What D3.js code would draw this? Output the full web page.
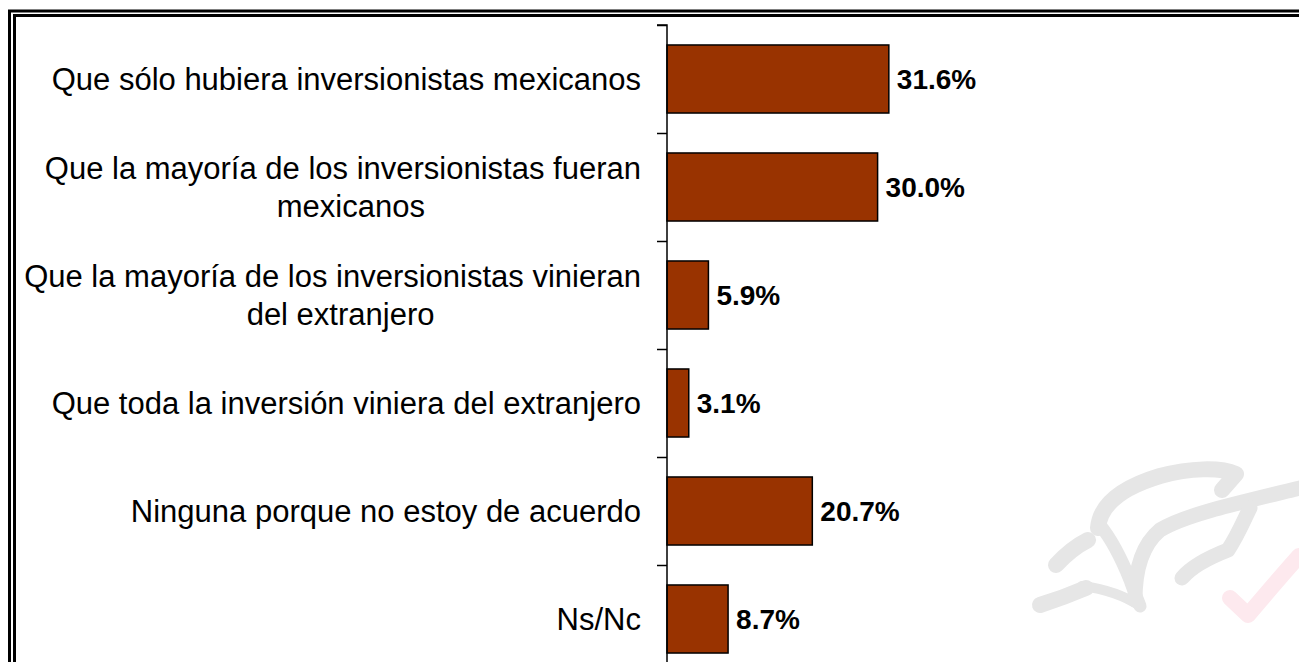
<!DOCTYPE html>
<html>
<head>
<meta charset="utf-8">
<script src="https://cdn.jsdelivr.net/npm/d3@7"></script>
<style>
  html, body { margin: 0; padding: 0; background: #ffffff; }
  svg { display: block; }
  text { font-family: "Liberation Sans", Arial, sans-serif; }
</style>
</head>
<body>
<svg id="chart" width="1299" height="662"></svg>
<script>
// ---- Data ----
const categories = [
  ["Que sólo hubiera inversionistas mexicanos"],
  ["Que la mayoría de los inversionistas fueran", "mexicanos"],
  ["Que la mayoría de los inversionistas vinieran", "del extranjero"],
  ["Que toda la inversión viniera del extranjero"],
  ["Ninguna porque no estoy de acuerdo"],
  ["Ns/Nc"]
];
const values = [31.6, 30.0, 5.9, 3.1, 20.7, 8.7];
const valueLabels = ["31.6%", "30.0%", "5.9%", "3.1%", "20.7%", "8.7%"];

// ---- Layout ----
const svg = d3.select("#chart");
const W = 1299, H = 662;
const axisX = 667;
const labelRight = 641;

// frame (double border extending past right/bottom edges)
svg.append("rect").attr("x", 9.5).attr("y", 11).attr("width", W + 20).attr("height", H + 20)
  .attr("fill", "none").attr("stroke", "#000").attr("stroke-width", 3);
svg.append("rect").attr("x", 14.5).attr("y", 15.5).attr("width", W + 20).attr("height", H + 20)
  .attr("fill", "none").attr("stroke", "#000").attr("stroke-width", 3);

// watermark
const wm = svg.append("g").attr("fill", "none").attr("stroke-linecap", "round").attr("stroke-linejoin", "round");
const gray = "#e6e6e6";
wm.append("path").attr("d", "M1040,605 C1056,600 1072,594 1086,588").attr("stroke", gray).attr("stroke-width", 16);
wm.append("path").attr("d", "M1056,565 C1068,552 1078,545 1088,540").attr("stroke", gray).attr("stroke-width", 16);
wm.append("path").attr("d", "M1098,528 C1100,505 1120,488 1160,476 C1190,468 1220,467 1236,474 L1222,490").attr("stroke", gray).attr("stroke-width", 16);
wm.append("path").attr("d", "M1100,525 C1112,540 1122,560 1130,580 C1134,592 1138,600 1140,606").attr("stroke", gray).attr("stroke-width", 13);
wm.append("path").attr("d", "M1082,586 C1105,589 1125,596 1140,606").attr("stroke", gray).attr("stroke-width", 10);
wm.append("path").attr("d", "M1135,600 C1135,570 1142,545 1160,530 C1185,515 1230,505 1300,488").attr("stroke", gray).attr("stroke-width", 15);
wm.append("path").attr("d", "M1182,578 C1192,566 1210,557 1228,550 C1238,535 1244,520 1250,508").attr("stroke", gray).attr("stroke-width", 15);
wm.append("path").attr("d", "M1230,598 L1248,615 C1265,595 1282,575 1299,556").attr("stroke", "#fde9ee").attr("stroke-width", 16);

// scales
const y = d3.scaleBand()
  .domain(d3.range(categories.length))
  .range([25, 673])
  .paddingInner(0.37)
  .paddingOuter(0.185);

const x = d3.scaleLinear().domain([0, 35]).range([axisX, axisX + 35 * 7.02]);

// bars
svg.append("g").selectAll("rect").data(values).join("rect")
  .attr("x", x(0))
  .attr("y", (d, i) => y(i))
  .attr("width", d => x(d) - x(0))
  .attr("height", y.bandwidth())
  .attr("fill", "#993300")
  .attr("stroke", "#000")
  .attr("stroke-width", 1.5);

// axis
const yAxisScale = d3.scaleLinear().domain([0, categories.length]).range([25, 673]);
const axis = d3.axisLeft(yAxisScale).ticks(categories.length).tickSize(10).tickFormat("");
const ag = svg.append("g").attr("transform", `translate(${axisX},0)`).call(axis);
ag.select(".domain").attr("stroke", "#000").attr("stroke-width", 1.5).attr("d", "M-10,25H0V673");
ag.selectAll(".tick line").attr("stroke", "#000").attr("stroke-width", 1.5);

// value labels
svg.append("g").selectAll("text").data(values).join("text")
  .attr("x", d => x(d) + 8)
  .attr("y", (d, i) => y(i) + y.bandwidth() / 2 + 10)
  .attr("font-size", 28)
  .attr("font-weight", "bold")
  .attr("fill", "#000")
  .text((d, i) => valueLabels[i]);

// category labels
const lineH = 38;
categories.forEach((lines, i) => {
  const cy = y(i) + y.bandwidth() / 2;
  const g = svg.append("g");
  const texts = lines.map((ln, k) => g.append("text")
    .attr("font-size", 31)
    .attr("fill", "#000")
    .attr("text-anchor", "middle")
    .attr("y", cy + 11 + (k - (lines.length - 1) / 2) * lineH)
    .text(ln));
  const maxW = d3.max(texts, t => t.node().getComputedTextLength());
  texts.forEach((t, k) => t.attr("x", labelRight - maxW / 2 + (k > 0 ? 8 : 0)));
});
</script>
</body>
</html>
